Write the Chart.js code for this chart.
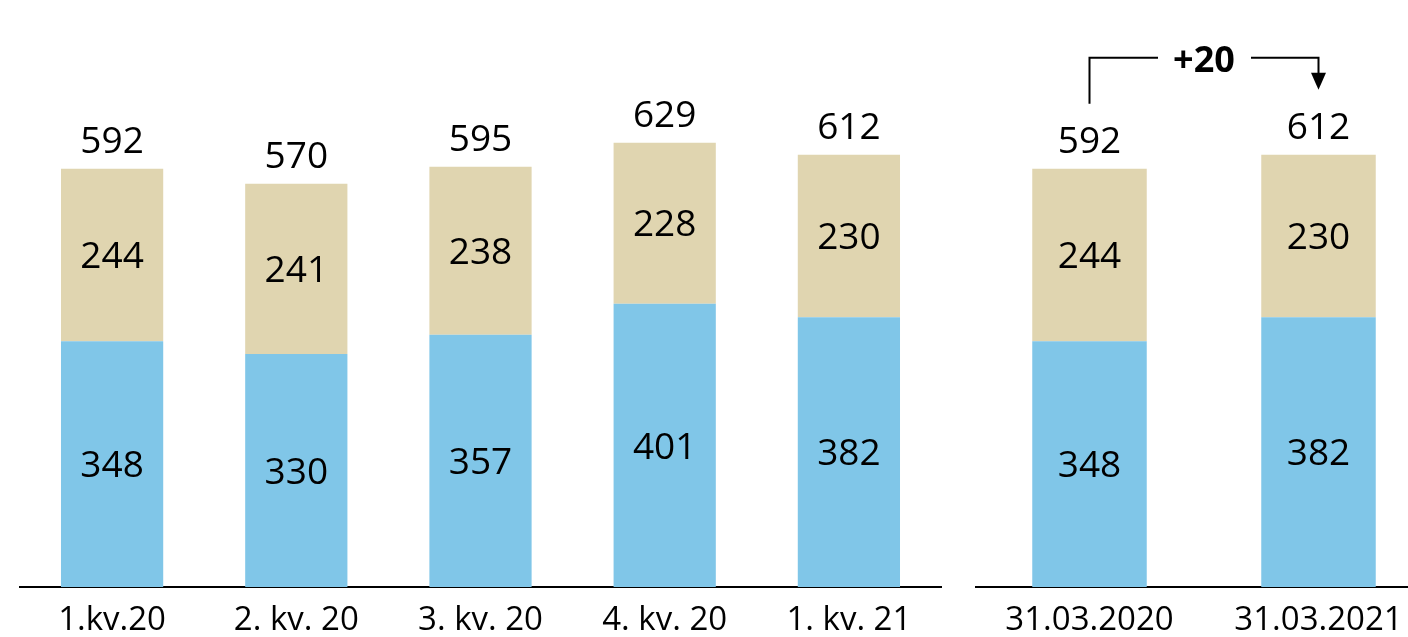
<!DOCTYPE html>
<html>
<head>
<meta charset="utf-8">
<script src="https://cdn.jsdelivr.net/npm/chart.js@4"></script>
<style>
  html, body { margin:0; padding:0; background:#fff; width:1408px; height:637px; overflow:hidden; position:relative; }
  #c1 { position:absolute; left:0; top:0; }
  #c2 { position:absolute; left:975px; top:0; }
</style>
</head>
<body>
<canvas id="c1" width="960" height="637"></canvas>
<canvas id="c2" width="458" height="637"></canvas>
<script>
const quarterLabels = ["1.kv.20", "2. kv. 20", "3. kv. 20", "4. kv. 20", "1. kv. 21"];
const quarterBlue   = [348, 330, 357, 401, 382];
const quarterBeige  = [244, 241, 238, 228, 230];
const quarterTotals = [592, 570, 595, 629, 612];

const dateLabels = ["31.03.2020", "31.03.2021"];
const dateBlue   = [348, 382];
const dateBeige  = [244, 230];
const dateTotals = [592, 612];
const changeText = "+20";

const BLUE = "#80C6E8";
const BEIGE = "#E0D5B0";
const FONT = "'Open Sans', 'DejaVu Sans', sans-serif";

Chart.defaults.devicePixelRatio = 1;

const labelPlugin = {
  id: 'valueLabels',
  afterDatasetsDraw(chart, args, opts) {
    const ctx = chart.ctx;
    ctx.save();
    ctx.fillStyle = '#000';
    ctx.textAlign = 'center';
    ctx.textBaseline = 'alphabetic';
    ctx.font = `37px ${FONT}`;
    const capHalf = 0.714 * 37 / 2;
    chart.data.datasets.forEach((ds, di) => {
      const meta = chart.getDatasetMeta(di);
      meta.data.forEach((bar, i) => {
        const top = Math.min(bar.y, bar.base);
        const bottom = Math.max(bar.y, bar.base);
        ctx.fillText(String(ds.data[i]), bar.x, (top + bottom) / 2 + capHalf);
      });
    });
    const topMeta = chart.getDatasetMeta(chart.data.datasets.length - 1);
    topMeta.data.forEach((bar, i) => {
      ctx.fillText(String(opts.totals[i]), bar.x, bar.y - 16);
    });
    ctx.restore();
  }
};

const bracketPlugin = {
  id: 'bracket',
  afterDatasetsDraw(chart, args, opts) {
    if (!opts.enabled) return;
    const ctx = chart.ctx;
    const meta = chart.getDatasetMeta(1);
    const b0 = meta.data[0], b1 = meta.data[1];
    const x0 = b0.x, x1 = b1.x;
    const yLine = Math.min(b0.y, b1.y) - 97;
    const yStart = b0.y - 65;
    const yTip = b1.y - 65;
    const mid = (x0 + x1) / 2;
    ctx.save();
    ctx.strokeStyle = '#000';
    ctx.fillStyle = '#000';
    ctx.lineWidth = 2;
    ctx.beginPath();
    ctx.moveTo(x0, yStart);
    ctx.lineTo(x0, yLine);
    ctx.lineTo(mid - 46, yLine);
    ctx.stroke();
    ctx.beginPath();
    ctx.moveTo(mid + 47, yLine);
    ctx.lineTo(x1, yLine);
    ctx.lineTo(x1, yTip - 15);
    ctx.stroke();
    ctx.beginPath();
    ctx.moveTo(x1 - 7.5, yTip - 17);
    ctx.lineTo(x1 + 7.5, yTip - 17);
    ctx.lineTo(x1, yTip);
    ctx.closePath();
    ctx.fill();
    ctx.font = `bold 36px ${FONT}`;
    ctx.textAlign = 'center';
    ctx.textBaseline = 'alphabetic';
    ctx.fillText(opts.text, mid, yLine + 14);
    ctx.restore();
  }
};

function makeChart(id, labels, blue, beige, totals, pct, padding, bracket) {
  return new Chart(document.getElementById(id), {
    type: 'bar',
    data: {
      labels: labels,
      datasets: [
        { data: blue, backgroundColor: BLUE, barPercentage: pct, categoryPercentage: 1 },
        { data: beige, backgroundColor: BEIGE, barPercentage: pct, categoryPercentage: 1 }
      ]
    },
    options: {
      responsive: false,
      animation: false,
      layout: { padding: padding },
      plugins: {
        legend: { display: false },
        tooltip: { enabled: false },
        valueLabels: { totals: totals },
        bracket: { enabled: bracket, text: changeText }
      },
      scales: {
        x: {
          stacked: true,
          grid: { display: false, drawTicks: false },
          border: { display: true, color: '#000', width: 2 },
          ticks: { color: '#000', font: { family: FONT, size: 33 }, padding: 14, maxRotation: 0, autoSkip: false },
          afterFit(scale) { scale.height = 50; }
        },
        y: {
          stacked: true,
          display: false,
          min: 0,
          max: 831
        }
      }
    },
    plugins: [labelPlugin, bracketPlugin]
  });
}

makeChart('c1', quarterLabels, quarterBlue, quarterBeige, quarterTotals, 0.555, { left: 20, right: 19, top: 0, bottom: 0 }, false);
makeChart('c2', dateLabels, dateBlue, dateBeige, dateTotals, 0.5, { left: 0, right: 0, top: 0, bottom: 0 }, true);
</script>
</body>
</html>
